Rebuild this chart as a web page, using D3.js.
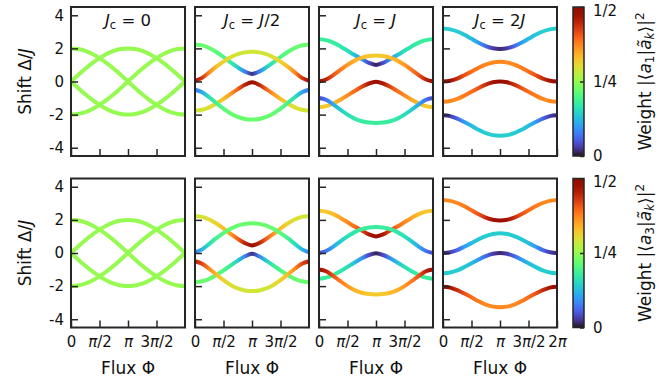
<!DOCTYPE html>
<html>
<head>
<meta charset="utf-8">
<script src="https://cdn.jsdelivr.net/npm/d3@7"></script>
<style>
    body { margin: 0; background: #fff; }
    svg text { font-family: "DejaVu Sans", sans-serif; fill: #111; }
</style>
</head>
<body>
<div id="graph"></div>
<script>
document.addEventListener('DOMContentLoaded', init);

// flux samples, in units of pi
var phiSamples = [0, 0.125, 0.25, 0.375, 0.5, 0.625, 0.75, 0.875, 1, 1.125, 1.25, 1.375, 1.5, 1.625, 1.75, 1.875, 2];
var phiTicks = [0, 0.5, 1, 1.5, 2];
var phiTickLabels = ["0", "π/2", "π", "3π/2", "2π"];
var shiftTicks = [-4, -2, 0, 2, 4];
var weightTicks = [0, 0.25, 0.5];
var weightTickLabels = ["0", "1/4", "1/2"];
var couplingLabels = ["0", "J/2", "J", "2J"];
var modeLabels = ["1", "3"];

// shift Δ/J of the four eigenmodes, one array per J_c
var shiftJc0 = [
    [2.00, 1.96, 1.85, 1.66, 1.41, 1.11, 0.77, 0.39, 0.00, -0.39, -0.77, -1.11, -1.41, -1.66, -1.85, -1.96, -2.00],
    [-2.00, -1.96, -1.85, -1.66, -1.41, -1.11, -0.77, -0.39, 0.00, 0.39, 0.77, 1.11, 1.41, 1.66, 1.85, 1.96, 2.00],
    [0.00, 0.39, 0.77, 1.11, 1.41, 1.66, 1.85, 1.96, 2.00, 1.96, 1.85, 1.66, 1.41, 1.11, 0.77, 0.39, 0.00],
    [0.00, -0.39, -0.77, -1.11, -1.41, -1.66, -1.85, -1.96, -2.00, -1.96, -1.85, -1.66, -1.41, -1.11, -0.77, -0.39, 0.00]
];
var shiftJcHalf = [
    [2.24, 2.18, 2.02, 1.78, 1.48, 1.15, 0.85, 0.60, 0.46, 0.60, 0.85, 1.15, 1.48, 1.78, 2.02, 2.18, 2.24],
    [0.04, 0.22, 0.55, 0.90, 1.20, 1.46, 1.65, 1.76, 1.80, 1.76, 1.65, 1.46, 1.20, 0.90, 0.55, 0.22, 0.04],
    [-1.76, -1.71, -1.56, -1.33, -1.05, -0.75, -0.46, -0.20, -0.04, -0.20, -0.46, -0.75, -1.05, -1.33, -1.56, -1.71, -1.76],
    [-0.50, -0.65, -0.95, -1.30, -1.64, -1.93, -2.14, -2.26, -2.30, -2.26, -2.14, -1.93, -1.64, -1.30, -0.95, -0.65, -0.50]
];
var shiftJcOne = [
    [2.56, 2.50, 2.35, 2.12, 1.86, 1.60, 1.36, 1.12, 1.00, 1.12, 1.36, 1.60, 1.86, 2.12, 2.35, 2.50, 2.56],
    [0.00, 0.12, 0.38, 0.70, 1.00, 1.26, 1.44, 1.54, 1.57, 1.54, 1.44, 1.26, 1.00, 0.70, 0.38, 0.12, 0.00],
    [-1.56, -1.49, -1.33, -1.10, -0.84, -0.57, -0.32, -0.12, -0.02, -0.12, -0.32, -0.57, -0.84, -1.10, -1.33, -1.49, -1.56],
    [-1.00, -1.10, -1.38, -1.70, -2.00, -2.24, -2.40, -2.48, -2.50, -2.48, -2.40, -2.24, -2.00, -1.70, -1.38, -1.10, -1.00]
];
var shiftJcTwo = [
    [3.20, 3.15, 3.02, 2.82, 2.58, 2.34, 2.14, 2.01, 1.97, 2.01, 2.14, 2.34, 2.58, 2.82, 3.02, 3.15, 3.20],
    [0.00, 0.05, 0.18, 0.38, 0.60, 0.83, 1.02, 1.15, 1.20, 1.15, 1.02, 0.83, 0.60, 0.38, 0.18, 0.05, 0.00],
    [-1.23, -1.18, -1.05, -0.85, -0.62, -0.39, -0.19, -0.05, 0.00, -0.05, -0.19, -0.39, -0.62, -0.85, -1.05, -1.18, -1.23],
    [-2.04, -2.09, -2.24, -2.45, -2.68, -2.92, -3.12, -3.24, -3.27, -3.24, -3.12, -2.92, -2.68, -2.45, -2.24, -2.09, -2.04]
];

// weight |<a1|a_k>|^2
var a1Jc0 = [
    [0.25, 0.25, 0.25, 0.25, 0.25, 0.25, 0.25, 0.25, 0.25, 0.25, 0.25, 0.25, 0.25, 0.25, 0.25, 0.25, 0.25],
    [0.25, 0.25, 0.25, 0.25, 0.25, 0.25, 0.25, 0.25, 0.25, 0.25, 0.25, 0.25, 0.25, 0.25, 0.25, 0.25, 0.25],
    [0.25, 0.25, 0.25, 0.25, 0.25, 0.25, 0.25, 0.25, 0.25, 0.25, 0.25, 0.25, 0.25, 0.25, 0.25, 0.25, 0.25],
    [0.25, 0.25, 0.25, 0.25, 0.25, 0.25, 0.25, 0.25, 0.25, 0.25, 0.25, 0.25, 0.25, 0.25, 0.25, 0.25, 0.25]
];
var a1JcHalf = [
    [0.22, 0.22, 0.22, 0.21, 0.20, 0.18, 0.14, 0.08, 0.02, 0.08, 0.14, 0.18, 0.20, 0.21, 0.22, 0.22, 0.22],
    [0.47, 0.43, 0.37, 0.33, 0.31, 0.30, 0.29, 0.29, 0.29, 0.29, 0.29, 0.30, 0.31, 0.33, 0.37, 0.43, 0.47],
    [0.29, 0.29, 0.30, 0.31, 0.33, 0.36, 0.40, 0.45, 0.48, 0.45, 0.40, 0.36, 0.33, 0.31, 0.30, 0.29, 0.29],
    [0.07, 0.11, 0.16, 0.19, 0.21, 0.22, 0.22, 0.22, 0.22, 0.22, 0.22, 0.22, 0.21, 0.19, 0.16, 0.11, 0.07]
];
var a1JcOne = [
    [0.18, 0.18, 0.18, 0.17, 0.16, 0.13, 0.09, 0.04, 0.01, 0.04, 0.09, 0.13, 0.16, 0.17, 0.18, 0.18, 0.18],
    [0.48, 0.45, 0.41, 0.38, 0.36, 0.34, 0.33, 0.32, 0.32, 0.32, 0.33, 0.34, 0.36, 0.38, 0.41, 0.45, 0.48],
    [0.32, 0.32, 0.33, 0.35, 0.37, 0.39, 0.42, 0.46, 0.48, 0.46, 0.42, 0.39, 0.37, 0.35, 0.33, 0.32, 0.32],
    [0.04, 0.07, 0.11, 0.14, 0.16, 0.17, 0.18, 0.18, 0.18, 0.18, 0.18, 0.17, 0.16, 0.14, 0.11, 0.07, 0.04]
];
var a1JcTwo = [
    [0.14, 0.14, 0.14, 0.135, 0.125, 0.10, 0.06, 0.03, 0.015, 0.03, 0.06, 0.10, 0.125, 0.135, 0.14, 0.14, 0.14],
    [0.48, 0.47, 0.44, 0.41, 0.39, 0.38, 0.37, 0.37, 0.37, 0.37, 0.37, 0.38, 0.39, 0.41, 0.44, 0.47, 0.48],
    [0.37, 0.37, 0.37, 0.38, 0.39, 0.41, 0.44, 0.47, 0.48, 0.47, 0.44, 0.41, 0.39, 0.38, 0.37, 0.37, 0.37],
    [0.015, 0.03, 0.06, 0.10, 0.125, 0.135, 0.14, 0.14, 0.14, 0.14, 0.14, 0.135, 0.125, 0.10, 0.06, 0.03, 0.015]
];

// weight |<a3|a_k>|^2
var a3Jc0 = [
    [0.25, 0.25, 0.25, 0.25, 0.25, 0.25, 0.25, 0.25, 0.25, 0.25, 0.25, 0.25, 0.25, 0.25, 0.25, 0.25, 0.25],
    [0.25, 0.25, 0.25, 0.25, 0.25, 0.25, 0.25, 0.25, 0.25, 0.25, 0.25, 0.25, 0.25, 0.25, 0.25, 0.25, 0.25],
    [0.25, 0.25, 0.25, 0.25, 0.25, 0.25, 0.25, 0.25, 0.25, 0.25, 0.25, 0.25, 0.25, 0.25, 0.25, 0.25, 0.25],
    [0.25, 0.25, 0.25, 0.25, 0.25, 0.25, 0.25, 0.25, 0.25, 0.25, 0.25, 0.25, 0.25, 0.25, 0.25, 0.25, 0.25]
];
var a3JcHalf = [
    [0.29, 0.29, 0.30, 0.31, 0.33, 0.36, 0.40, 0.45, 0.48, 0.45, 0.40, 0.36, 0.33, 0.31, 0.30, 0.29, 0.29],
    [0.08, 0.12, 0.16, 0.19, 0.21, 0.22, 0.22, 0.22, 0.22, 0.22, 0.22, 0.22, 0.21, 0.19, 0.16, 0.12, 0.08],
    [0.22, 0.22, 0.22, 0.21, 0.20, 0.18, 0.14, 0.08, 0.02, 0.08, 0.14, 0.18, 0.20, 0.21, 0.22, 0.22, 0.22],
    [0.45, 0.42, 0.37, 0.33, 0.31, 0.30, 0.29, 0.29, 0.29, 0.29, 0.29, 0.30, 0.31, 0.33, 0.37, 0.42, 0.45]
];
var a3JcOne = [
    [0.32, 0.32, 0.33, 0.35, 0.37, 0.39, 0.42, 0.46, 0.48, 0.46, 0.42, 0.39, 0.37, 0.35, 0.33, 0.32, 0.32],
    [0.04, 0.07, 0.11, 0.14, 0.16, 0.17, 0.18, 0.18, 0.18, 0.18, 0.18, 0.17, 0.16, 0.14, 0.11, 0.07, 0.04],
    [0.18, 0.18, 0.18, 0.17, 0.16, 0.13, 0.09, 0.04, 0.01, 0.04, 0.09, 0.13, 0.16, 0.17, 0.18, 0.18, 0.18],
    [0.48, 0.45, 0.41, 0.38, 0.36, 0.34, 0.33, 0.32, 0.32, 0.32, 0.33, 0.34, 0.36, 0.38, 0.41, 0.45, 0.48]
];
var a3JcTwo = [
    [0.37, 0.37, 0.37, 0.38, 0.39, 0.41, 0.44, 0.47, 0.48, 0.47, 0.44, 0.41, 0.39, 0.38, 0.37, 0.37, 0.37],
    [0.015, 0.03, 0.06, 0.10, 0.125, 0.135, 0.14, 0.14, 0.14, 0.14, 0.14, 0.135, 0.125, 0.10, 0.06, 0.03, 0.015],
    [0.14, 0.14, 0.14, 0.135, 0.125, 0.10, 0.06, 0.03, 0.015, 0.03, 0.06, 0.10, 0.125, 0.135, 0.14, 0.14, 0.14],
    [0.48, 0.47, 0.44, 0.41, 0.39, 0.38, 0.37, 0.37, 0.37, 0.37, 0.37, 0.38, 0.39, 0.41, 0.44, 0.47, 0.48]
];

var shifts = [shiftJc0, shiftJcHalf, shiftJcOne, shiftJcTwo];
var weights = [
    [a1Jc0, a1JcHalf, a1JcOne, a1JcTwo],
    [a3Jc0, a3JcHalf, a3JcOne, a3JcTwo]
];

let svgWidth = 668;
let svgHeight = 388;
let panelLeft = [71, 195, 319, 443];
let panelWidth = 114;
let rowTop = [7, 178.5];
let panelHeight = 149;
let barLeft = 573;
let barWidth = 11;
let frameColor = "#262626";
let tickFontSize = 15;
let labelFontSize = 17;

let colorScale = d3.scaleSequential(d3.interpolateTurbo).domain([0, 0.5]);

function init() {
    let svg = d3.select("#graph")
        .append("svg")
        .attr("width", svgWidth)
        .attr("height", svgHeight);

    let defs = svg.append("defs");

    for (let row = 0; row < 2; row++) {
        for (let col = 0; col < 4; col++) {
            drawPanel(svg, defs, row, col);
        }
        drawColorbar(svg, defs, row);

        // y axis label
        let yl = svg.append("text")
            .attr("transform", "translate(31," + (rowTop[row] + panelHeight / 2) + ") rotate(-90)")
            .attr("text-anchor", "middle")
            .attr("font-size", labelFontSize);
        yl.append("tspan").text("Shift Δ/");
        yl.append("tspan").style("font-style", "italic").text("J");
    }

    // x axis labels
    panelLeft.forEach((left) => {
        svg.append("text")
            .attr("x", left + panelWidth / 2)
            .attr("y", 374)
            .attr("text-anchor", "middle")
            .attr("font-size", labelFontSize)
            .text("Flux Φ");
    });
}

// writes a label with J and π set in italics
function mathText(sel, str) {
    str.split(/(π|J)/).forEach((part) => {
        if (!part) return;
        sel.append("tspan")
            .style("font-style", (part === "π" || part === "J") ? "italic" : null)
            .text(part);
    });
}

// the axis generator sets its own font, so restyle after the call
function styleAxis(g) {
    g.attr("font-size", tickFontSize)
        .attr("font-family", "DejaVu Sans, sans-serif");
    g.select(".domain").remove();
    g.selectAll(".tick line")
        .attr("stroke", frameColor)
        .attr("stroke-width", 1.5);
}

function drawPanel(svg, defs, row, col) {
    let x = d3.scaleLinear()
        .domain([0, 2 * Math.PI])
        .range([panelLeft[col], panelLeft[col] + panelWidth]);

    let y = d3.scaleLinear()
        .domain([-4.5, 4.5])
        .range([rowTop[row] + panelHeight, rowTop[row]]);

    let line = d3.line()
        .x((d, i) => x(phiSamples[i] * Math.PI))
        .y((d) => y(d))
        .curve(d3.curveMonotoneX);

    let g = svg.append("g");

    // the curves, coloured along flux by the weight
    shifts[col].forEach((values, k) => {
        let id = "grad-" + row + "-" + col + "-" + k;
        let grad = defs.append("linearGradient")
            .attr("id", id)
            .attr("gradientUnits", "userSpaceOnUse")
            .attr("x1", x(0))
            .attr("x2", x(2 * Math.PI))
            .attr("y1", 0)
            .attr("y2", 0);

        grad.selectAll("stop")
            .data(weights[row][col][k])
            .enter()
            .append("stop")
            .attr("offset", (d, i) => phiSamples[i] / 2)
            .attr("stop-color", (d) => colorScale(d));

        g.append("path")
            .attr("d", line(values))
            .attr("fill", "none")
            .attr("stroke", "url(#" + id + ")")
            .attr("stroke-width", 4);
    });

    // axes, ticks pointing inwards
    let yAxis = d3.axisLeft(y)
        .tickValues(shiftTicks)
        .tickSizeInner(-7)
        .tickSizeOuter(0)
        .tickPadding(7)
        .tickFormat((d) => col === 0 ? String(d) : "");

    svg.append("g")
        .attr("transform", "translate(" + panelLeft[col] + ",0)")
        .call(yAxis)
        .call(styleAxis);

    let xTicks = col === 3 ? phiTicks : phiTicks.slice(0, 4);
    let xAxis = d3.axisBottom(x)
        .tickValues(xTicks.map((p) => p * Math.PI))
        .tickSizeInner(-7)
        .tickSizeOuter(0)
        .tickPadding(9)
        .tickFormat(() => "");

    let gx = svg.append("g")
        .attr("transform", "translate(0," + (rowTop[row] + panelHeight) + ")")
        .call(xAxis)
        .call(styleAxis);

    if (row === 1) {
        gx.selectAll(".tick text").each(function (d, i) {
            mathText(d3.select(this), phiTickLabels[i]);
        });
    }

    // frame
    svg.append("rect")
        .attr("x", panelLeft[col])
        .attr("y", rowTop[row])
        .attr("width", panelWidth)
        .attr("height", panelHeight)
        .attr("fill", "none")
        .attr("stroke", frameColor)
        .attr("stroke-width", 2);

    // title
    if (row === 0) {
        let t = svg.append("text")
            .attr("x", panelLeft[col] + panelWidth / 2)
            .attr("y", 26)
            .attr("text-anchor", "middle")
            .attr("font-size", 16.5);
        t.append("tspan").style("font-style", "italic").text("J");
        t.append("tspan").attr("font-size", 11.5).attr("dy", 3).text("c");
        t.append("tspan").attr("dy", -3).text(" = ");
        mathText(t, couplingLabels[col]);
    }
}

function drawColorbar(svg, defs, row) {
    let id = "bar-" + row;
    let grad = defs.append("linearGradient")
        .attr("id", id)
        .attr("x1", 0).attr("y1", 1)
        .attr("x2", 0).attr("y2", 0);

    grad.selectAll("stop")
        .data(d3.range(0, 1.0001, 0.05))
        .enter()
        .append("stop")
        .attr("offset", (d) => d)
        .attr("stop-color", (d) => colorScale(d * 0.5));

    let cy = d3.scaleLinear()
        .domain([0, 0.5])
        .range([rowTop[row] + panelHeight, rowTop[row]]);

    svg.append("rect")
        .attr("x", barLeft)
        .attr("y", rowTop[row])
        .attr("width", barWidth)
        .attr("height", panelHeight)
        .attr("fill", "url(#" + id + ")")
        .attr("stroke", frameColor)
        .attr("stroke-width", 1.5);

    let barAxis = d3.axisRight(cy)
        .tickValues(weightTicks)
        .tickSizeInner(-4)
        .tickSizeOuter(0)
        .tickPadding(9)
        .tickFormat((d, i) => weightTickLabels[i]);

    let gb = svg.append("g")
        .attr("transform", "translate(" + (barLeft + barWidth) + ",0)")
        .call(barAxis)
        .call(styleAxis);

    // keep the top label inside the page
    gb.selectAll(".tick text")
        .filter((d) => d === 0.5)
        .attr("y", 3.5);

    // Weight |<a_n|ã_k>|^2
    let lab = svg.append("text")
        .attr("transform", "translate(651," + (rowTop[row] + panelHeight / 2) + ") rotate(-90)")
        .attr("text-anchor", "middle")
        .attr("font-size", labelFontSize);
    lab.append("tspan").text("Weight |⟨");
    lab.append("tspan").style("font-style", "italic").text("a");
    lab.append("tspan").attr("font-size", 12).attr("dy", 3).text(modeLabels[row]);
    lab.append("tspan").attr("dy", -3).text("|");
    lab.append("tspan").style("font-style", "italic").text("ã");
    lab.append("tspan").attr("font-size", 12).attr("dy", 3).style("font-style", "italic").text("k");
    lab.append("tspan").attr("dy", -3).text("⟩|");
    lab.append("tspan").attr("font-size", 12).attr("dy", -7).text("2");
}
</script>
</body>
</html>
